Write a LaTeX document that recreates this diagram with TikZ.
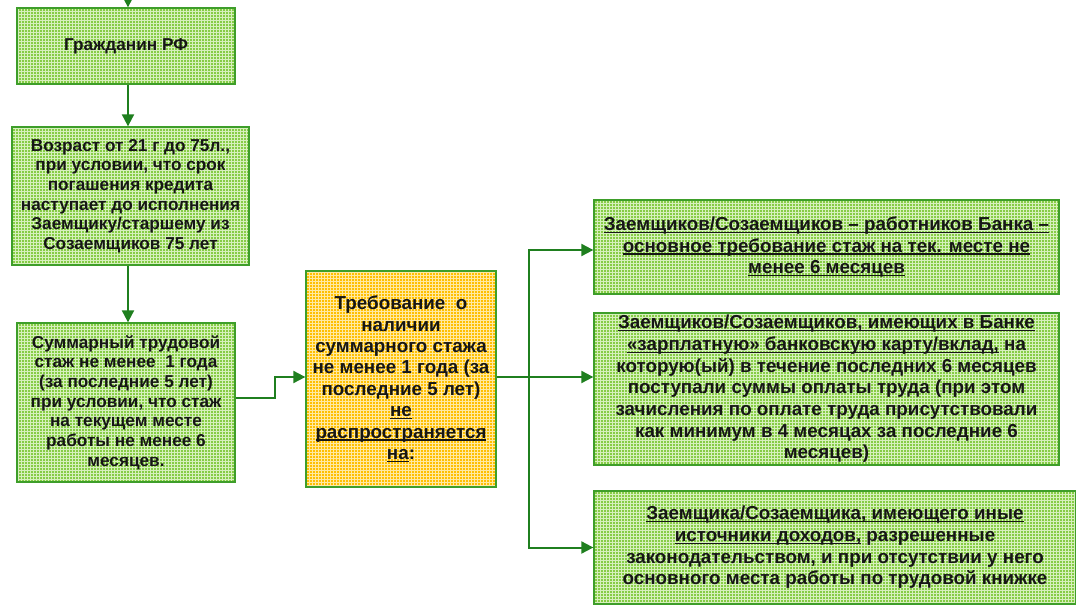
\documentclass[tikz,border=0pt]{standalone}
\usepackage{fontspec}
\setmainfont{Liberation Sans}
\usetikzlibrary{arrows.meta,patterns}
\pgfdeclarepatternformonly{boxgrid}{\pgfqpoint{-1pt}{-1pt}}{\pgfqpoint{4pt}{4pt}}{\pgfqpoint{3pt}{3pt}}{%
  \pgfsetlinewidth{0.9pt}%
  \pgfpathmoveto{\pgfqpoint{0pt}{-0.5pt}}\pgfpathlineto{\pgfqpoint{0pt}{3.5pt}}%
  \pgfpathmoveto{\pgfqpoint{-0.5pt}{0pt}}\pgfpathlineto{\pgfqpoint{3.5pt}{0pt}}%
  \pgfusepath{stroke}}
\definecolor{gfill}{HTML}{86CC45}
\definecolor{ggrid}{HTML}{D6F0BC}
\definecolor{yfill}{HTML}{FFBF00}
\definecolor{ygrid}{HTML}{FFE9A0}
\definecolor{gborder}{HTML}{3E9E2A}
\definecolor{gline}{HTML}{1F7F1F}
\definecolor{txt}{HTML}{161616}
\newcommand\myul[1]{\setbox0=\hbox{#1}\rlap{\rule[-2.6pt]{\wd0}{1.3pt}}\box0\relax}
\tikzset{
  box/.style={draw=gborder, line width=1.3pt, preaction={fill=gfill},
    pattern=boxgrid, pattern color=ggrid, align=center, inner sep=2pt,
    text=txt, font=\bfseries\fontsize{17.2}{19.7}\selectfont},
  ybox/.style={box, preaction={fill=yfill}, pattern color=ygrid,
    font=\bfseries\fontsize{18.8}{21.4}\selectfont},
  rbox/.style={box, font=\bfseries\fontsize{18.8}{21.7}\selectfont},
  arr/.style={draw=gline, line width=2pt, -{Triangle[length=12pt,width=12pt]}},
}
\begin{document}
\begin{tikzpicture}[x=1pt,y=-1pt]
\useasboundingbox (0,0) rectangle (1076,605);
\node[box, minimum width=218pt, minimum height=76pt] (b1) at (126,46) {Гражданин РФ};
\node[box, minimum width=237pt, minimum height=138pt] (b2) at (130.5,196) {Возраст от 21 г до 75л.,\\при условии, что срок\\погашения кредита\\наступает до исполнения\\Заемщику/старшему из\\Созаемщиков 75 лет};
\node[box, minimum width=218pt, minimum height=159pt] (b3) at (126,402.5) {Суммарный трудовой\\стаж не менее \ 1 года\\(за последние 5 лет)\\при условии, что стаж\\на текущем месте\\работы не менее 6\\месяцев.};
\node[ybox, minimum width=190pt, minimum height=216pt] (b4) at (401,379) {Требование \ о\\наличии\\суммарного стажа\\не менее 1 года (за\\последние 5 лет)\\\myul{не}\\\myul{распространяется}\\\myul{на}:};
\node[rbox, minimum width=465pt, minimum height=94pt] (b5) at (826.5,247) {\myul{Заемщиков/Созаемщиков – работников Банка –}\\\myul{основное требование стаж на тек. месте не}\\\myul{менее 6 месяцев}};
\node[rbox, minimum width=465pt, minimum height=148pt] (b6) at (826.5,389) {\myul{Заемщиков/Созаемщиков, имеющих в Банке}\\\myul{«зарплатную» банковскую карту/вклад,} на\\которую(ый) в течение последних 6 месяцев\\поступали суммы оплаты труда (при этом\\зачисления по оплате труда присутствовали\\как минимум в 4 месяцах за последние 6\\месяцев)};
\node[rbox, minimum width=482pt, minimum height=113pt] (b7) at (835,547.5) {\myul{Заемщика/Созаемщика, имеющего иные}\\\myul{источники доходов,} разрешенные\\законодательством, и при отсутствии у него\\основного места работы по трудовой книжке};
\coordinate (top) at (128,-12);
\coordinate (colx) at (128,0);
\coordinate (tr) at (529,377);
\draw[arr] (top) -- (b1.north -| colx);
\draw[arr] (b1.south -| colx) -- (b2.north -| colx);
\draw[arr] (b2.south -| colx) -- (b3.north -| colx);
\draw[arr] ([yshift=4.5pt]b3.east) -- ++(39,0) |- ([yshift=2pt]b4.west);
\draw[arr] ([yshift=2pt]b4.east) -- ([yshift=12pt]b6.west);
\draw[arr] (tr) |- ([yshift=-3pt]b5.west);
\draw[arr] (tr) |- (b7.west);
\end{tikzpicture}
\end{document}
